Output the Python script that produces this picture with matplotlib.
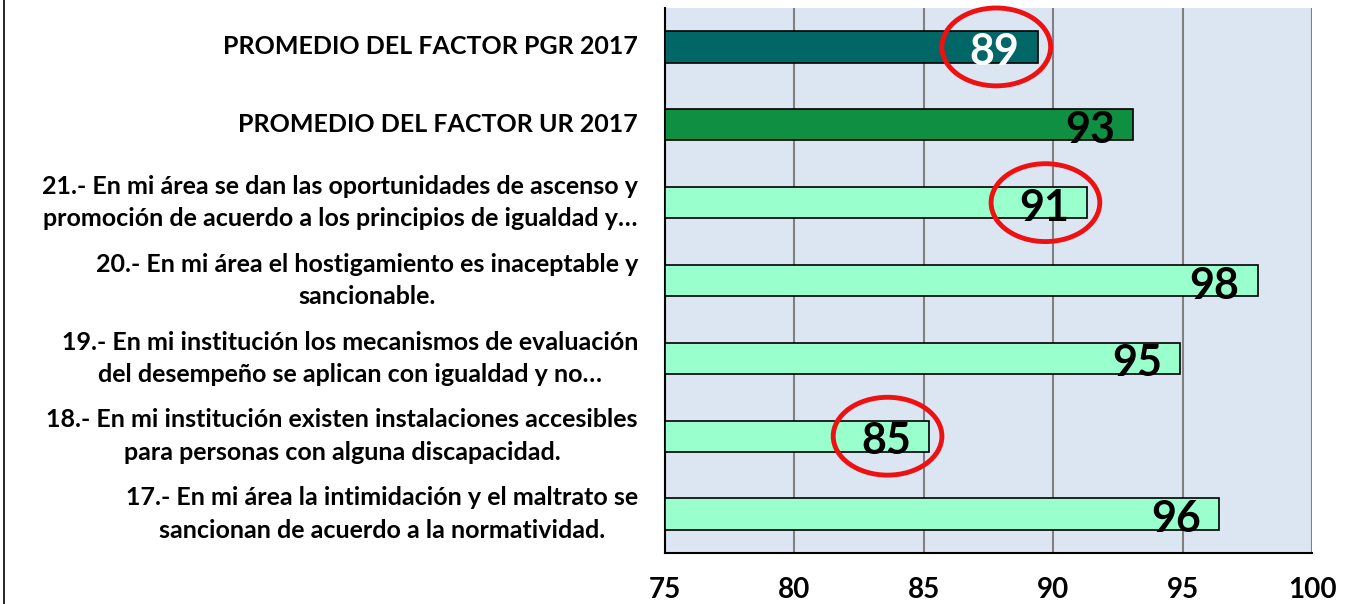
import numpy as np
import matplotlib.pyplot as plt
from matplotlib.patches import Ellipse

# --- Data ---
labels = [
    'PROMEDIO DEL FACTOR PGR 2017',
    'PROMEDIO DEL FACTOR UR 2017',
    '21.- En mi área se dan las oportunidades de ascenso y\npromoción de acuerdo a los principios de igualdad y…',
    '20.- En mi área el hostigamiento es inaceptable y\nsancionable.',
    '19.- En mi institución los mecanismos de evaluación\ndel desempeño se aplican con igualdad y no…',
    '18.- En mi institución existen instalaciones accesibles\npara personas con alguna discapacidad.',
    '17.- En mi área la intimidación y el maltrato se\nsancionan de acuerdo a la normatividad.',
]
values = [89.4, 93.1, 91.3, 97.9, 94.9, 85.2, 96.4]
bar_colors = ['#006666', '#0F8F41', '#99FFCC', '#99FFCC', '#99FFCC', '#99FFCC', '#99FFCC']
value_colors = ['white', 'black', 'black', 'black', 'black', 'black', 'black']
circled = [0, 2, 5]  # items marked with a red ellipse
xticks = [75, 80, 85, 90, 95, 100]

plt.rcParams['font.family'] = ['Lato', 'DejaVu Sans']
plt.rcParams['font.weight'] = 'bold'

fig = plt.figure(figsize=(13.47, 6.04), dpi=100)
ax = fig.add_axes([665 / 1347, 1 - 553 / 604, (1312 - 665) / 1347, (553 - 8) / 604])
ax.set_facecolor('#DCE6F2')

n = len(labels)
y = np.arange(n)[::-1]  # first item at top

ax.barh(y, [v - 75 for v in values], left=75, height=0.4, color=bar_colors,
        edgecolor='black', linewidth=1.2, zorder=3)

# value labels at inside end
for yi, v, c in zip(y, values, value_colors):
    ax.annotate(f'{v:.0f}', xy=(v, yi), xytext=(-13, -13), textcoords='offset points',
                ha='right', va='baseline', fontsize=31, fontweight='bold', color=c,
                zorder=5, annotation_clip=False)

# red ellipses
for i in circled:
    e = Ellipse((values[i] - 1.6, y[i]), width=4.2, height=1.0, fill=False,
                edgecolor='#EE1111', linewidth=3.5, zorder=6, clip_on=False)
    ax.add_patch(e)

ax.set_xlim(75, 100)
ax.set_ylim(-0.5, n - 0.5)
ax.set_xticks(xticks)
ax.set_xticklabels([str(t) for t in xticks], fontsize=20, fontweight='bold')
ax.tick_params(axis='x', length=0, pad=17)
ax.set_yticks([])

ax.grid(axis='x', color='#808080', linewidth=1.5, zorder=0)
ax.set_axisbelow(True)
for s in ['top', 'right']:
    ax.spines[s].set_visible(False)
ax.spines['left'].set_linewidth(1.5)
ax.spines['bottom'].set_linewidth(1.5)

# category labels on the left
for yi, lab in zip(y, labels):
    ax.text(-27 / 647 * 25 + 75, yi, lab, ha='right', va='center',
            multialignment='center', fontsize=18, fontweight='bold',
            linespacing=1.5)

# left border line of the chart area
fig.add_artist(plt.Line2D([4 / 1347, 4 / 1347], [0, 1], color='black', linewidth=1.2))

fig.savefig('out.png', dpi=100, facecolor='white')
